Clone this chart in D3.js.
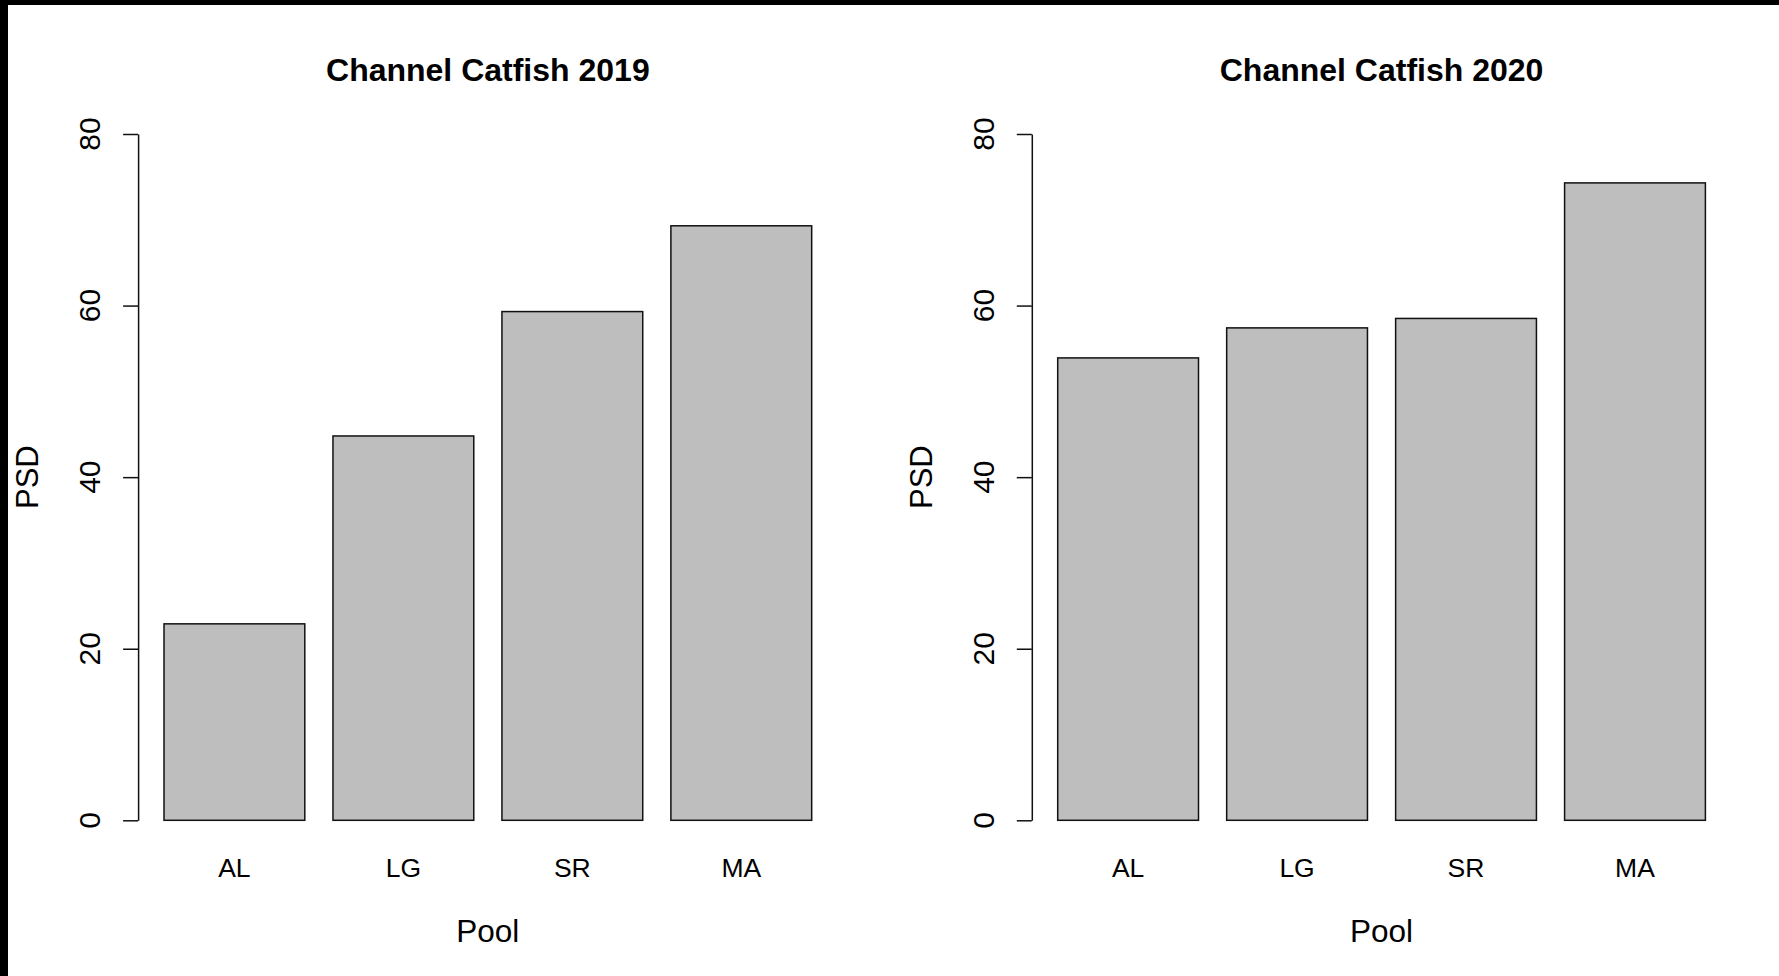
<!DOCTYPE html>
<html>
<head>
<meta charset="utf-8">
<script src="https://cdn.jsdelivr.net/npm/d3@7"></script>
<style>
  html, body { margin: 0; padding: 0; background: #ffffff; }
  svg { display: block; }
  text { font-family: "Liberation Sans", Arial, sans-serif; fill: #000; }
</style>
</head>
<body>
<svg id="chart" width="1779" height="976"></svg>
<script>
// ---- data ----
const pools = ["AL", "LG", "SR", "MA"];
const psd2019 = [22.9, 44.8, 59.3, 69.3];
const psd2020 = [53.9, 57.4, 58.5, 74.3];
const yTicks = [0, 20, 40, 60, 80];
const titles = ["Channel Catfish 2019", "Channel Catfish 2020"];
const xLabel = "Pool";
const yLabel = "PSD";

const panels = [
  { title: titles[0], values: psd2019, left: 138.1 },
  { title: titles[1], values: psd2020, left: 1031.8 }
];

const plotWidth = 699.5;
const svg = d3.select("#chart");

svg.append("rect").attr("x", 0).attr("y", 0).attr("width", 1779).attr("height", 976).attr("fill", "#ffffff");

const y = d3.scaleLinear().domain([0, 80]).range([820.3, 134]);

panels.forEach(p => {
  const g = svg.append("g");
  const x = d3.scaleBand()
    .domain(pools)
    .range([p.left, p.left + plotWidth])
    .paddingInner(1 / 6)
    .paddingOuter(0.184 / 1.2);

  // bars
  g.selectAll("rect.bar")
    .data(pools.map((k, i) => ({ k, v: p.values[i] })))
    .join("rect")
    .attr("class", "bar")
    .attr("x", d => x(d.k))
    .attr("width", x.bandwidth())
    .attr("y", d => y(d.v))
    .attr("height", d => y(0) - y(d.v))
    .attr("fill", "#bebebe")
    .attr("stroke", "#111")
    .attr("stroke-width", 1.5);

  // y axis
  const ax = g.append("g")
    .attr("transform", `translate(${p.left},0)`)
    .call(d3.axisLeft(y).tickValues(yTicks).tickSizeInner(15).tickSizeOuter(0).tickFormat(""));
  ax.select(".domain").attr("stroke", "#111").attr("stroke-width", 1.5);
  ax.selectAll(".tick line").attr("stroke", "#111").attr("stroke-width", 1.5);

  // y tick labels (rotated, R style)
  g.selectAll("text.ytick")
    .data(yTicks)
    .join("text")
    .attr("class", "ytick")
    .attr("transform", d => `translate(${p.left - 38},${y(d)}) rotate(-90)`)
    .attr("text-anchor", "middle")
    .attr("font-size", 30)
    .text(d => d);

  // x category labels
  g.selectAll("text.xtick")
    .data(pools)
    .join("text")
    .attr("class", "xtick")
    .attr("x", d => x(d) + x.bandwidth() / 2)
    .attr("y", 877)
    .attr("text-anchor", "middle")
    .attr("font-size", 26.5)
    .text(d => d);

  // title
  g.append("text")
    .attr("x", p.left + plotWidth / 2)
    .attr("y", 81)
    .attr("text-anchor", "middle")
    .attr("font-size", 32)
    .attr("font-weight", "bold")
    .text(p.title);

  // x axis label
  g.append("text")
    .attr("x", p.left + plotWidth / 2)
    .attr("y", 942)
    .attr("text-anchor", "middle")
    .attr("font-size", 31.5)
    .text(xLabel);

  // y axis label
  g.append("text")
    .attr("transform", `translate(${p.left - 100},${y(40)}) rotate(-90)`)
    .attr("text-anchor", "middle")
    .attr("font-size", 31)
    .text(yLabel);
});

// black screenshot frame (top and left edges)
svg.append("rect").attr("x", 0).attr("y", 0).attr("width", 1779).attr("height", 5).attr("fill", "#000");
svg.append("rect").attr("x", 0).attr("y", 0).attr("width", 8).attr("height", 976).attr("fill", "#000");
</script>
</body>
</html>
